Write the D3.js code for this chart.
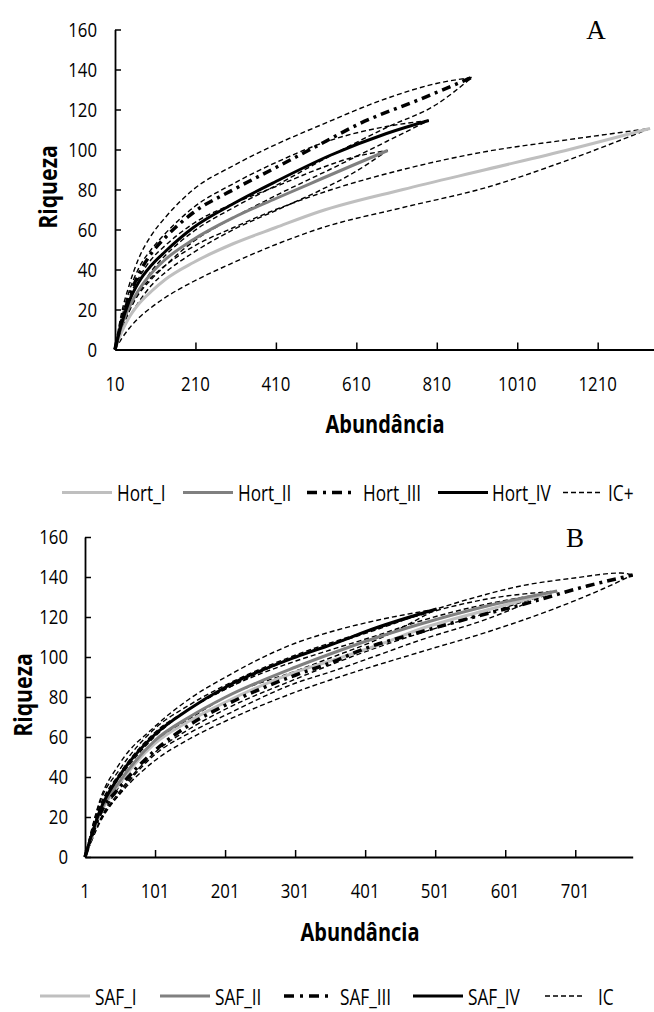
<!DOCTYPE html>
<html>
<head>
<meta charset="utf-8">
<script src="https://cdn.jsdelivr.net/npm/d3@7"></script>
<style>
  html, body { margin: 0; padding: 0; background: #fff; }
  svg { display: block; }
</style>
</head>
<body>
<svg id="chart" width="654" height="1012"></svg>
<script>
// ---------- Panel A: horticulture plots (abundance, richness) ----------
const ticksA = [10, 210, 410, 610, 810, 1010, 1210];
const hortI    = [[10,0],[25,8],[45,16],[70,23],[100,29],[135,35],[205,43.5],[305,53],[410,61],[519,69],[726,80],[933,90],[1140,100],[1340,110.5]];
const hortI_hi = [[10,0],[25,11],[45,21],[70,29],[100,36],[135,42],[205,51.5],[305,61],[410,70],[519,78],[726,90],[933,99],[1140,105],[1340,110.5]];
const hortI_lo = [[10,0],[25,5],[45,10.5],[70,16],[100,21],[135,26],[205,34],[305,43.5],[410,52.5],[519,60.5],[726,71],[933,81],[1140,95],[1340,110.5]];
const hortII    = [[10,0],[25,11],[45,21],[70,30],[100,38],[135,45],[205,55],[305,66],[410,75.5],[519,85],[600,92],[688,99.5]];
const hortII_hi = [[10,0],[25,14],[45,26],[70,36],[100,45],[135,52],[205,63],[305,73],[410,81.5],[519,90.5],[600,96],[688,99.5]];
const hortII_lo = [[10,0],[25,8],[45,16],[70,24],[100,32],[135,38.5],[205,48.5],[305,60],[410,69.5],[519,79.5],[600,88],[688,99.5]];
const hortIII    = [[10,0],[25,13],[45,26],[70,38],[100,48],[135,56],[205,68.5],[305,80],[410,91],[519,102.5],[619,113],[767,125],[897,136]];
const hortIII_hi = [[10,0],[25,17],[45,32],[70,46],[100,57],[135,66],[205,80],[305,92],[410,102.5],[519,112],[685,125.5],[809,133],[897,136]];
const hortIII_lo = [[10,0],[25,9],[45,19],[70,29],[100,39],[135,47],[205,59],[305,71],[410,82],[519,94],[685,111],[809,122.5],[897,136]];
const hortIV    = [[10,0],[25,12],[45,24],[70,34],[100,42],[135,49],[205,61],[305,73],[410,84],[544,97],[685,108],[790,114.5]];
const hortIV_hi = [[10,0],[25,15],[45,29],[70,41],[100,50],[135,58],[205,71],[305,83],[410,93.5],[544,104.5],[685,111.5],[790,114.5]];
const hortIV_lo = [[10,0],[25,9],[45,19],[70,28],[100,35],[135,42],[205,54],[305,66],[410,77],[544,90],[685,104],[790,114.5]];
const legendA = ["Hort_I", "Hort_II", "Hort_III", "Hort_IV", "IC+"];

// ---------- Panel B: agroforestry plots ----------
const ticksB = [1, 101, 201, 301, 401, 501, 601, 701];
const safI    = [[1,0],[22,21],[51,37],[100,56.5],[150,68],[202,77.5],[302,92.5],[351,98],[420,106],[480,114],[575,123.5],[665,132]];
const safI_hi = [[1,0],[22,25],[51,42],[100,62],[150,74],[202,84],[302,98],[351,103.5],[420,111],[480,118],[575,126.5],[665,132]];
const safI_lo = [[1,0],[22,17],[51,32],[100,51],[150,62],[202,71],[302,87],[351,92.5],[420,101],[480,108.5],[575,119],[665,132]];
const safII    = [[1,0],[22,22],[51,38],[100,58],[150,70],[202,80],[302,95],[351,101.5],[420,110],[480,116.5],[575,125.5],[675,133]];
const safII_hi = [[1,0],[22,27],[51,44],[100,64],[150,76],[202,86],[302,101],[351,107],[420,114.5],[480,121],[575,129],[675,133]];
const safII_lo = [[1,0],[22,18],[51,33],[100,52],[150,64],[202,74],[302,89],[351,96],[420,105],[480,112],[575,122],[675,133]];
const safIII    = [[1,0],[22,21],[51,35],[100,53],[150,66],[202,76],[302,91],[351,97],[399,104],[480,112.5],[551,119.5],[623,126],[718,135.5],[783,141]];
const safIII_hi = [[1,0],[22,25],[51,40],[100,60],[150,74],[202,84],[302,100],[351,106],[420,114],[494,123],[560,130],[623,135.5],[700,139.5],[766,142],[783,141]];
const safIII_lo = [[1,0],[22,18],[51,31.5],[100,48],[150,59],[202,68],[302,82.5],[351,88.5],[480,102.5],[580,113],[670,124],[740,134],[783,141]];
const safIV    = [[1,0],[22,23],[51,41],[100,61],[150,74],[202,85],[302,100],[351,106],[420,115],[503,124]];
const safIV_hi = [[1,0],[22,28],[51,47],[100,65],[150,79],[202,90],[302,107],[351,112.5],[420,118.5],[503,124]];
const safIV_lo = [[1,0],[22,18],[51,36],[100,57],[150,69],[202,80],[302,93],[351,99.5],[420,109],[503,124]];
const legendB = ["SAF_I", "SAF_II", "SAF_III", "SAF_IV", "IC"];

const yTicks = [0, 20, 40, 60, 80, 100, 120, 140, 160];

// ---------- drawing ----------
const svg = d3.select("#chart");
const FONT = "'Open Sans', 'Noto Sans', sans-serif";
const SX = 0.82; // narrow the sans glyphs horizontally

const styles = {
  light:   { stroke: "#bfbfbf", width: 3,   dash: null },
  dark:    { stroke: "#808080", width: 3,   dash: null },
  dashdot: { stroke: "#000",    width: 3.5, dash: "9,5,3,5" },
  solid:   { stroke: "#000",    width: 3,   dash: null },
  ic:      { stroke: "#000",    width: 1.4, dash: "5,3" }
};

function txt(g, x, y, s, o = {}) {
  const rot = o.rotate ? ` rotate(${o.rotate})` : "";
  return g.append("text")
    .attr("transform", `translate(${x},${y})${rot} scale(${o.sx ?? SX},1)`)
    .attr("text-anchor", o.anchor || "start")
    .attr("dy", o.dy ?? "0.35em")
    .style("font-family", o.family || FONT)
    .style("font-size", (o.size || 20.5) + "px")
    .style("font-weight", o.weight || "normal")
    .attr("fill", "#000")
    .text(s);
}

function drawPanel(cfg) {
  const g = svg.append("g");
  const x = d3.scaleLinear().domain(cfg.xDomain).range(cfg.xRange);
  const y = d3.scaleLinear().domain([0, 160]).range(cfg.yRange);
  const x0 = cfg.xRange[0], yBase = cfg.yRange[0];

  // curves: confidence bounds first, then the mean curves
  const line = d3.line().x(d => x(d[0])).y(d => y(d[1])).curve(d3.curveMonotoneX);
  const draw = (data, st) => {
    const s = styles[st];
    g.append("path").datum(data)
      .attr("d", line)
      .attr("fill", "none")
      .attr("stroke", s.stroke)
      .attr("stroke-width", s.width)
      .attr("stroke-dasharray", s.dash)
      .attr("stroke-linejoin", "round");
  };
  cfg.series.forEach(sr => { draw(sr.hi, "ic"); draw(sr.lo, "ic"); });
  cfg.series.forEach(sr => draw(sr.mean, sr.style));

  // x axis
  g.append("g").attr("transform", `translate(0,${yBase})`)
    .call(d3.axisBottom(x).tickValues(cfg.xTicks).tickSizeInner(-7).tickSizeOuter(0).tickFormat(""))
    .call(a => a.select(".domain").attr("stroke", "#000").attr("stroke-width", 2))
    .call(a => a.selectAll(".tick line").attr("stroke", "#000").attr("stroke-width", 1.5));
  // y axis
  g.append("g").attr("transform", `translate(${x0},0)`)
    .call(d3.axisLeft(y).tickValues(yTicks).tickSizeInner(-6).tickSizeOuter(0).tickFormat(""))
    .call(a => a.select(".domain").attr("stroke", "#000").attr("stroke-width", 1.8))
    .call(a => a.selectAll(".tick line").attr("stroke", "#000").attr("stroke-width", 1.5));

  yTicks.forEach(v => txt(g, x0 - cfg.yLabelGap, y(v), v, { anchor: "end" }));
  cfg.xTicks.forEach(v => txt(g, x(v), yBase + 34, v, { anchor: "middle" }));

  txt(g, cfg.xTitleX, yBase + 75, "Abundância", { anchor: "middle", size: 25, sx: 0.8, weight: "bold" });
  txt(g, cfg.yTitleX, cfg.yTitleY, "Riqueza", { anchor: "middle", size: 25, sx: 0.85, weight: "bold", rotate: -90 });
  txt(g, cfg.tagX, cfg.tagY, cfg.tag, { anchor: "middle", size: 27, family: "'Liberation Serif', 'Times New Roman', serif", sx: 1, dy: 0 });

  // legend
  const lg = g.append("g");
  cfg.legend.forEach((name, i) => {
    const key = cfg.legendStyles[i];
    const st = styles[key];
    const lx = cfg.legendLines[i];
    lg.append("line")
      .attr("x1", lx).attr("x2", lx + (key === "ic" ? 40 : 50))
      .attr("y1", cfg.legendY).attr("y2", cfg.legendY)
      .attr("stroke", st.stroke)
      .attr("stroke-width", key === "ic" ? 1.4 : st.width)
      .attr("stroke-dasharray", key === "dashdot" ? "10,6,3,6" : st.dash);
    txt(lg, cfg.legendText[i], cfg.legendY + 1.5, name, { size: 21 });
  });
}

drawPanel({
  xDomain: [10, 1350], xRange: [115, 654], yRange: [349.5, 29.5],
  xTicks: ticksA, yLabelGap: 18,
  xTitleX: 385, yTitleX: 48, yTitleY: 187,
  tag: "A", tagX: 596, tagY: 39,
  series: [
    { mean: hortI,   hi: hortI_hi,   lo: hortI_lo,   style: "light" },
    { mean: hortII,  hi: hortII_hi,  lo: hortII_lo,  style: "dark" },
    { mean: hortIII, hi: hortIII_hi, lo: hortIII_lo, style: "dashdot" },
    { mean: hortIV,  hi: hortIV_hi,  lo: hortIV_lo,  style: "solid" }
  ],
  legend: legendA,
  legendStyles: ["light", "dark", "dashdot", "solid", "ic"],
  legendLines: [62, 183, 307, 438, 563],
  legendText: [117, 238, 363, 492, 608],
  legendY: 492.5
});

drawPanel({
  xDomain: [1, 783], xRange: [85, 632.7], yRange: [857, 537],
  xTicks: ticksB, yLabelGap: 17,
  xTitleX: 360, yTitleX: 23, yTitleY: 695,
  tag: "B", tagX: 575, tagY: 547,
  series: [
    { mean: safI,   hi: safI_hi,   lo: safI_lo,   style: "light" },
    { mean: safII,  hi: safII_hi,  lo: safII_lo,  style: "dark" },
    { mean: safIII, hi: safIII_hi, lo: safIII_lo, style: "dashdot" },
    { mean: safIV,  hi: safIV_hi,  lo: safIV_lo,  style: "solid" }
  ],
  legend: legendB,
  legendStyles: ["light", "dark", "dashdot", "solid", "ic"],
  legendLines: [40, 160, 284, 413, 545],
  legendText: [95, 215, 340, 468, 598],
  legendY: 996
});
</script>
</body>
</html>
